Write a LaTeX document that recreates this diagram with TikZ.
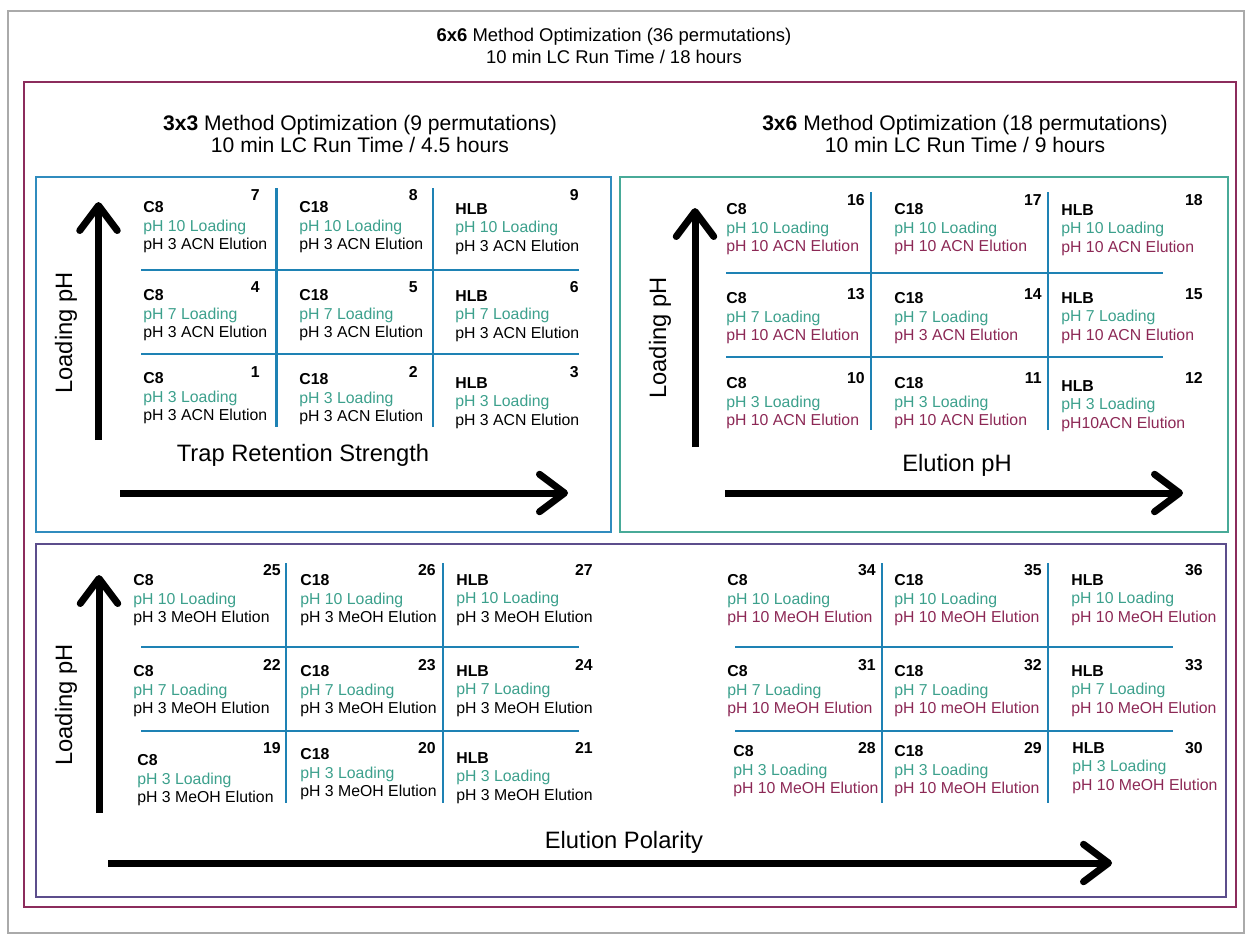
\documentclass[tikz,border=0pt]{standalone}
\usepackage{fontspec}
\setmainfont{Liberation Sans}
\usetikzlibrary{arrows.meta}
\definecolor{framegray}{RGB}{170,170,170}
\definecolor{outermaroon}{RGB}{140,44,92}
\definecolor{panelblue}{RGB}{48,140,190}
\definecolor{panelteal}{RGB}{72,170,152}
\definecolor{panelpurple}{RGB}{92,78,140}
\definecolor{gridblue}{RGB}{30,130,180}
\definecolor{loadcol}{RGB}{60,160,140}
\definecolor{elutcol}{RGB}{140,40,85}

\begin{document}
\begin{tikzpicture}[x=0.02cm,y=-0.02cm,
	cell/.style={anchor=north west,align=left,inner sep=0pt,font=\fontsize{9}{10.6}\selectfont},
	num/.style={anchor=north east,inner sep=0pt,font=\fontsize{9}{10}\selectfont\bfseries},
	grid/.style={draw=gridblue,line width=1.3pt},
	bigarrow/.style={line width=0.14cm,-{Straight Barb[length=0.5cm,width=0.75cm,round]}},
	axis/.style={font=\fontsize{13.5}{16}\selectfont},
	title/.style={align=center,font=\fontsize{12}{13}\selectfont}]
	\useasboundingbox (0,0) rectangle (1253,944);
	% frames
	\draw[framegray,line width=0.8pt] (8,11) rectangle (1244,933);
	\draw[outermaroon,line width=1.1pt] (24,82) rectangle (1236,907);
	\draw[panelblue,line width=1.1pt] (36,177) rectangle (611,532);
	\draw[panelteal,line width=1.1pt] (620,177) rectangle (1228,532);
	\draw[panelpurple,line width=1.1pt] (36,544) rectangle (1226,897);
	% titles
	\node[title,font=\fontsize{10.5}{12.5}\selectfont] (t66) at (614,46) {\textbf{6x6} Method Optimization (36 permutations)\\10 min LC Run Time / 18 hours};
	\node[title] (t33) at (360,134) {\textbf{3x3} Method Optimization (9 permutations)\\10 min LC Run Time / 4.5 hours};
	\node[title] (t36) at (965,134) {\textbf{3x6} Method Optimization (18 permutations)\\10 min LC Run Time / 9 hours};

	% 3x3 panel
	\draw[grid] (276.5,188) -- (276.5,427);
	\draw[grid] (433,188) -- (433,427);
	\draw[grid] (141,270) -- (579,270);
	\draw[grid] (141,354) -- (579,354);
	\node[cell] (c7) at (143,201) {\textbf{C8}\\\textcolor{loadcol}{pH 10 Loading}\\pH 3 ACN Elution};
	\node[num] (n7) at (260,189) {7};
	\node[cell] (c8) at (299,201) {\textbf{C18}\\\textcolor{loadcol}{pH 10 Loading}\\pH 3 ACN Elution};
	\node[num] (n8) at (418,189) {8};
	\node[cell] (c9) at (455,203) {\textbf{HLB}\\\textcolor{loadcol}{pH 10 Loading}\\pH 3 ACN Elution};
	\node[num] (n9) at (579,189) {9};
	\node[cell] (c4) at (143,289) {\textbf{C8}\\\textcolor{loadcol}{pH 7 Loading}\\pH 3 ACN Elution};
	\node[num] (n4) at (260,281) {4};
	\node[cell] (c5) at (299,289) {\textbf{C18}\\\textcolor{loadcol}{pH 7 Loading}\\pH 3 ACN Elution};
	\node[num] (n5) at (418,281) {5};
	\node[cell] (c6) at (455,290) {\textbf{HLB}\\\textcolor{loadcol}{pH 7 Loading}\\pH 3 ACN Elution};
	\node[num] (n6) at (579,281) {6};
	\node[cell] (c1) at (143,372) {\textbf{C8}\\\textcolor{loadcol}{pH 3 Loading}\\pH 3 ACN Elution};
	\node[num] (n1) at (260,366) {1};
	\node[cell] (c2) at (299,373) {\textbf{C18}\\\textcolor{loadcol}{pH 3 Loading}\\pH 3 ACN Elution};
	\node[num] (n2) at (418,366) {2};
	\node[cell] (c3) at (455,377) {\textbf{HLB}\\\textcolor{loadcol}{pH 3 Loading}\\pH 3 ACN Elution};
	\node[num] (n3) at (579,366) {3};
	\draw[bigarrow] (98.5,440) -- (98.5,202);
	\node[axis,rotate=90] (ylab33) at (66,333) {Loading pH};
	\draw[bigarrow] (120,493) -- (568,493);
	\node[axis] (xlab33) at (303,455) {Trap Retention Strength};

	% 3x6 panel
	\draw[grid] (871,192) -- (871,430);
	\draw[grid] (1048,192) -- (1048,430);
	\draw[grid] (726,273) -- (1163,273);
	\draw[grid] (726,357) -- (1163,357);
	\node[cell] (c16) at (726,203) {\textbf{C8}\\\textcolor{loadcol}{pH 10 Loading}\\\textcolor{elutcol}{pH 10 ACN Elution}};
	\node[num] (n16) at (865,194) {16};
	\node[cell] (c17) at (894,203) {\textbf{C18}\\\textcolor{loadcol}{pH 10 Loading}\\\textcolor{elutcol}{pH 10 ACN Elution}};
	\node[num] (n17) at (1042,194) {17};
	\node[cell] (c18) at (1061,204) {\textbf{HLB}\\\textcolor{loadcol}{pH 10 Loading}\\\textcolor{elutcol}{pH 10 ACN Elution}};
	\node[num] (n18) at (1203,194) {18};
	\node[cell] (c13) at (726,292) {\textbf{C8}\\\textcolor{loadcol}{pH 7 Loading}\\\textcolor{elutcol}{pH 10 ACN Elution}};
	\node[num] (n13) at (865,288) {13};
	\node[cell] (c14) at (894,292) {\textbf{C18}\\\textcolor{loadcol}{pH 7 Loading}\\\textcolor{elutcol}{pH 3 ACN Elution}};
	\node[num] (n14) at (1042,288) {14};
	\node[cell] (c15) at (1061,292) {\textbf{HLB}\\\textcolor{loadcol}{pH 7 Loading}\\\textcolor{elutcol}{pH 10 ACN Elution}};
	\node[num] (n15) at (1203,288) {15};
	\node[cell] (c10) at (726,377) {\textbf{C8}\\\textcolor{loadcol}{pH 3 Loading}\\\textcolor{elutcol}{pH 10 ACN Elution}};
	\node[num] (n10) at (865,372) {10};
	\node[cell] (c11) at (894,377) {\textbf{C18}\\\textcolor{loadcol}{pH 3 Loading}\\\textcolor{elutcol}{pH 10 ACN Elution}};
	\node[num] (n11) at (1042,372) {11};
	\node[cell] (c12) at (1061,380) {\textbf{HLB}\\\textcolor{loadcol}{pH 3 Loading}\\\textcolor{elutcol}{pH10ACN Elution}};
	\node[num] (n12) at (1203,372) {12};
	\draw[bigarrow] (695,447) -- (695,208);
	\node[axis,rotate=90] (ylab36) at (660,338) {Loading pH};
	\draw[bigarrow] (725,493) -- (1183,493);
	\node[axis] (xlab36) at (957,465) {Elution pH};

	% 6x6 lower panel, left block
	\draw[grid] (286,563) -- (286,803);
	\draw[grid] (443,563) -- (443,803);
	\draw[grid] (141,647) -- (579,647);
	\draw[grid] (141,731) -- (579,731);
	\node[cell] (c25) at (133,574) {\textbf{C8}\\\textcolor{loadcol}{pH 10 Loading}\\pH 3 MeOH Elution};
	\node[num] (n25) at (281,564) {25};
	\node[cell] (c26) at (300,574) {\textbf{C18}\\\textcolor{loadcol}{pH 10 Loading}\\pH 3 MeOH Elution};
	\node[num] (n26) at (436,564) {26};
	\node[cell] (c27) at (456,574) {\textbf{HLB}\\\textcolor{loadcol}{pH 10 Loading}\\pH 3 MeOH Elution};
	\node[num] (n27) at (593,564) {27};
	\node[cell] (c22) at (133,665) {\textbf{C8}\\\textcolor{loadcol}{pH 7 Loading}\\pH 3 MeOH Elution};
	\node[num] (n22) at (281,659) {22};
	\node[cell] (c23) at (300,665) {\textbf{C18}\\\textcolor{loadcol}{pH 7 Loading}\\pH 3 MeOH Elution};
	\node[num] (n23) at (436,659) {23};
	\node[cell] (c24) at (456,665) {\textbf{HLB}\\\textcolor{loadcol}{pH 7 Loading}\\pH 3 MeOH Elution};
	\node[num] (n24) at (593,659) {24};
	\node[cell] (c19) at (137,754) {\textbf{C8}\\\textcolor{loadcol}{pH 3 Loading}\\pH 3 MeOH Elution};
	\node[num] (n19) at (281,742) {19};
	\node[cell] (c20) at (300,748) {\textbf{C18}\\\textcolor{loadcol}{pH 3 Loading}\\pH 3 MeOH Elution};
	\node[num] (n20) at (436,742) {20};
	\node[cell] (c21) at (456,752) {\textbf{HLB}\\\textcolor{loadcol}{pH 3 Loading}\\pH 3 MeOH Elution};
	\node[num] (n21) at (593,742) {21};

	% 6x6 lower panel, right block
	\draw[grid] (882,563) -- (882,803);
	\draw[grid] (1048,563) -- (1048,803);
	\draw[grid] (735,647) -- (1173,647);
	\draw[grid] (735,731) -- (1173,731);
	\node[cell] (c34) at (727,574) {\textbf{C8}\\\textcolor{loadcol}{pH 10 Loading}\\\textcolor{elutcol}{pH 10 MeOH Elution}};
	\node[num] (n34) at (876,564) {34};
	\node[cell] (c35) at (894,574) {\textbf{C18}\\\textcolor{loadcol}{pH 10 Loading}\\\textcolor{elutcol}{pH 10 MeOH Elution}};
	\node[num] (n35) at (1042,564) {35};
	\node[cell] (c36) at (1071,574) {\textbf{HLB}\\\textcolor{loadcol}{pH 10 Loading}\\\textcolor{elutcol}{pH 10 MeOH Elution}};
	\node[num] (n36) at (1203,564) {36};
	\node[cell] (c31) at (727,665) {\textbf{C8}\\\textcolor{loadcol}{pH 7 Loading}\\\textcolor{elutcol}{pH 10 MeOH Elution}};
	\node[num] (n31) at (876,659) {31};
	\node[cell] (c32) at (894,665) {\textbf{C18}\\\textcolor{loadcol}{pH 7 Loading}\\\textcolor{elutcol}{pH 10 meOH Elution}};
	\node[num] (n32) at (1042,659) {32};
	\node[cell] (c33) at (1071,665) {\textbf{HLB}\\\textcolor{loadcol}{pH 7 Loading}\\\textcolor{elutcol}{pH 10 MeOH Elution}};
	\node[num] (n33) at (1203,659) {33};
	\node[cell] (c28) at (733,745) {\textbf{C8}\\\textcolor{loadcol}{pH 3 Loading}\\\textcolor{elutcol}{pH 10 MeOH Elution}};
	\node[num] (n28) at (876,742) {28};
	\node[cell] (c29) at (894,745) {\textbf{C18}\\\textcolor{loadcol}{pH 3 Loading}\\\textcolor{elutcol}{pH 10 MeOH Elution}};
	\node[num] (n29) at (1042,742) {29};
	\node[cell] (c30) at (1072,742) {\textbf{HLB}\\\textcolor{loadcol}{pH 3 Loading}\\\textcolor{elutcol}{pH 10 MeOH Elution}};
	\node[num] (n30) at (1203,742) {30};
	\draw[bigarrow] (99,813) -- (99,575);
	\node[axis,rotate=90] (ylab66) at (66,705) {Loading pH};
	\draw[bigarrow] (108,863) -- (1112,863);
	\node[axis] (xlab66) at (624,842) {Elution Polarity};
\end{tikzpicture}
\end{document}
